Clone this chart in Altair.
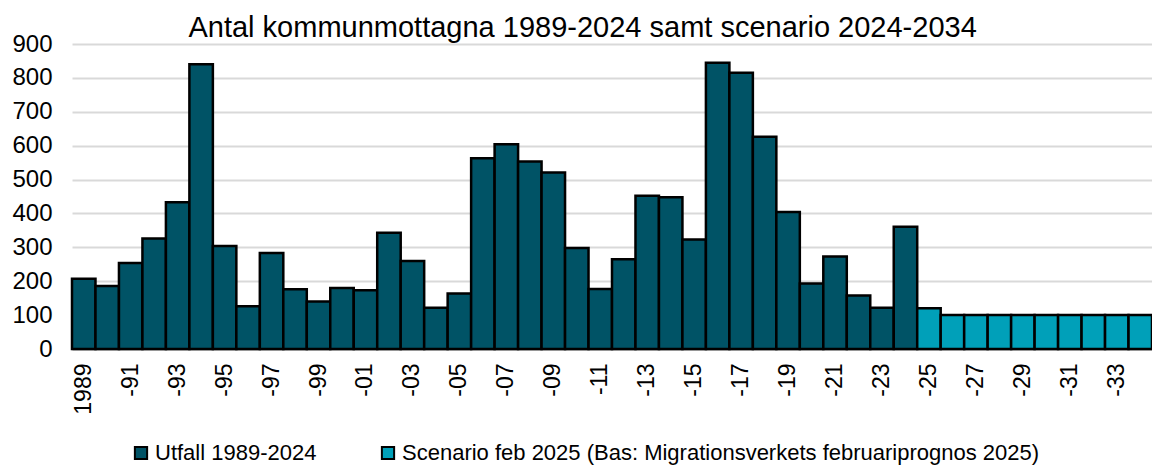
import altair as alt
import pandas as pd

years = list(range(1989, 2035))
utfall = [207, 186, 254, 326, 433, 840, 304, 126, 283, 176, 140, 180, 173, 343,
          260, 122, 164, 563, 604, 553, 521, 298, 177, 265, 452, 448, 323, 845,
          815, 626, 404, 193, 273, 158, 122, 361]
scenario = [120, 100, 100, 100, 100, 100, 100, 100, 100, 100]
series_names = ["Utfall 1989-2024",
                "Scenario feb 2025 (Bas: Migrationsverkets februariprognos 2025)"]
colors = ["#005366", "#00A0B9"]

df = pd.DataFrame({
    "year": years,
    "value": utfall + scenario,
    "serie": [series_names[0]] * len(utfall) + [series_names[1]] * len(scenario),
})

font = "Liberation Sans"

label_expr = ("datum.value == 1989 ? '1989' : (datum.value % 2 == 1 ? "
              "'-' + substring(toString(datum.value), 2, 4) : '')")

chart = alt.Chart(df).mark_bar(stroke="black", strokeWidth=2.5).encode(
    x=alt.X("year:O", title=None,
            scale=alt.Scale(paddingInner=0, paddingOuter=0),
            axis=alt.Axis(labelExpr=label_expr, labelAngle=270, labelAlign="right",
                          labelBaseline="middle", labelFontSize=23, labelFont=font,
                          labelColor="black", labelPadding=14, ticks=False,
                          domainColor="#a6a6a6", domainWidth=2, labelOverlap=False)),
    y=alt.Y("value:Q", title=None,
            scale=alt.Scale(domain=[0, 900], nice=False),
            axis=alt.Axis(values=list(range(0, 901, 100)), labelFontSize=24,
                          labelFont=font, labelColor="black", labelPadding=20,
                          ticks=False, domain=False, gridColor="#d9d9d9",
                          gridWidth=2)),
    color=alt.Color("serie:N", title=None,
                    scale=alt.Scale(domain=series_names, range=colors),
                    legend=alt.Legend(orient="none", legendX=58, legendY=398,
                                      direction="horizontal", columns=2,
                                      symbolType="square", symbolSize=150,
                                      symbolStrokeColor="black", symbolStrokeWidth=2,
                                      labelFontSize=22, labelFont=font,
                                      labelColor="black", labelLimit=1000,
                                      columnPadding=60, labelOffset=3)),
).properties(
    width=1080,
    height=305,
    padding={"left": 64, "top": 36, "right": 0, "bottom": 117},
    autosize=alt.AutoSizeParams(type="none"),
    title=alt.TitleParams("Antal kommunmottagna 1989-2024 samt scenario 2024-2034",
                          fontSize=29, font=font, fontWeight="normal", color="black",
                          anchor="middle", frame="bounds", offset=4, dy=15),
).configure_view(stroke=None)

chart.save("out.html", embed_options={"renderer": "svg", "actions": False})
